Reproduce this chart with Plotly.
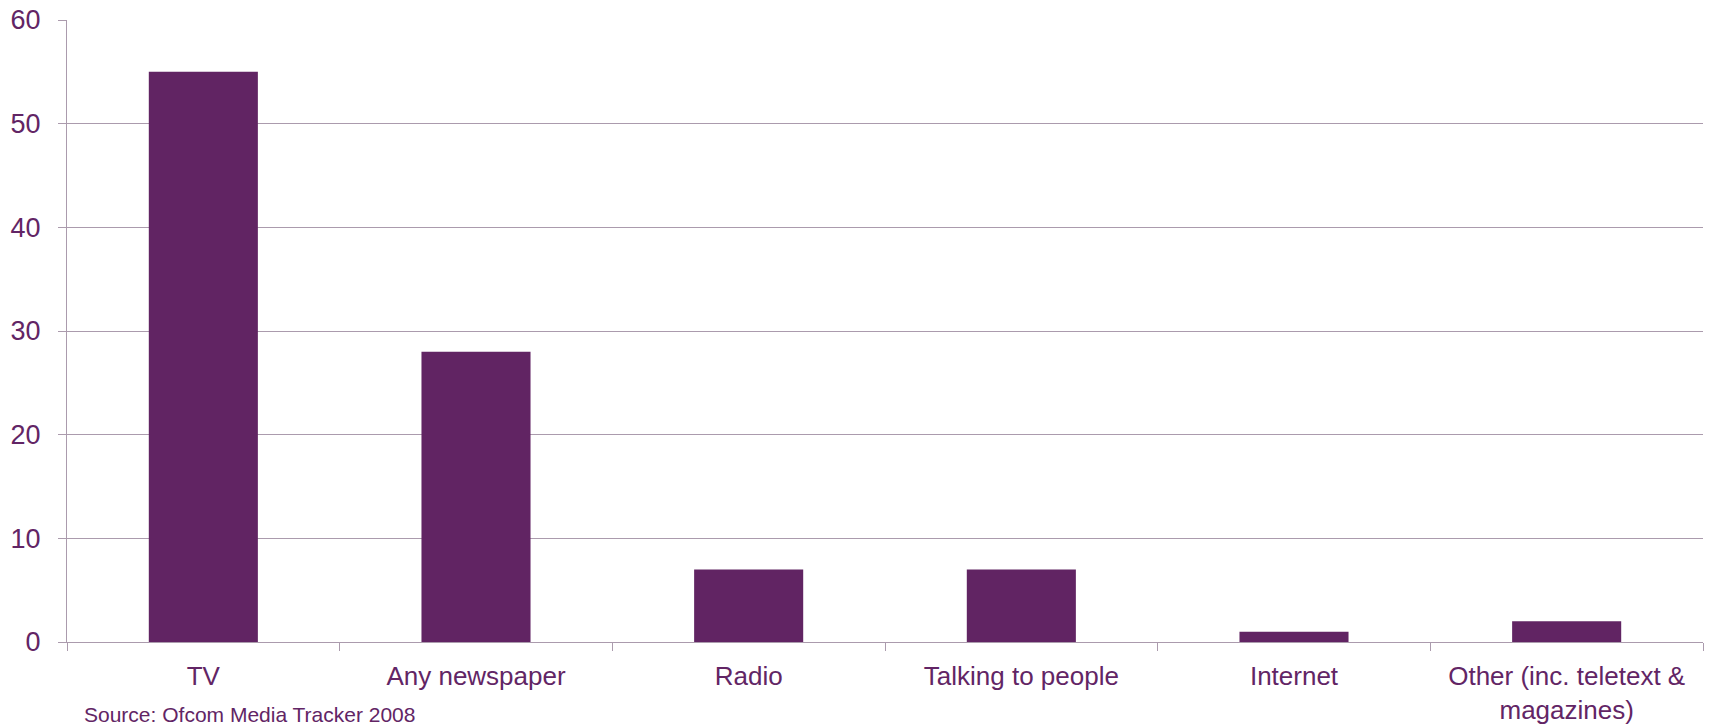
import plotly.graph_objects as go

categories = ["TV", "Any newspaper", "Radio", "Talking to people", "Internet",
              "Other (inc. teletext &<br>magazines)"]
values = [55, 28, 7, 7, 1, 2]
y_ticks = [0, 10, 20, 30, 40, 50, 60]
source_text = "Source: Ofcom Media Tracker 2008"

BAR = "#612463"
TXT = "#622565"
GRID = "#AB9BAD"
FONT = "Liberation Sans, Arial, sans-serif"

fig = go.Figure(go.Bar(x=categories, y=values, marker=dict(color=BAR, line=dict(width=0)),
                       hoverinfo="x+y"))

fig.update_layout(
    width=1710, height=728,
    margin=dict(l=67, r=7, t=20, b=86),
    paper_bgcolor="white", plot_bgcolor="white",
    bargap=0.6, showlegend=False,
    font=dict(family=FONT, size=26, color=TXT),
)
fig.update_xaxes(
    type="category", tickson="boundaries", ticks="outside", ticklen=8, tickwidth=1,
    tickcolor=GRID, showline=True, linecolor=GRID, linewidth=1, showgrid=False,
    tickfont=dict(family=FONT, size=26, color=TXT), tickangle=0,
    ticklabelstandoff=11, automargin=False,
)
fig.update_yaxes(
    range=[0, 60], tickvals=y_ticks, ticks="outside", ticklen=8, tickwidth=1,
    tickcolor=GRID, showline=True, linecolor=GRID, linewidth=1,
    showgrid=True, gridcolor=GRID, gridwidth=1, zeroline=False,
    tickfont=dict(family=FONT, size=27, color=TXT),
    ticklabelstandoff=12, automargin=False,
)
fig.add_annotation(text=source_text, xref="paper", yref="paper", x=0.009, y=-0.138,
                   xanchor="left", yanchor="bottom", showarrow=False,
                   font=dict(family=FONT, size=21, color=TXT))

fig.write_html("out.html")
